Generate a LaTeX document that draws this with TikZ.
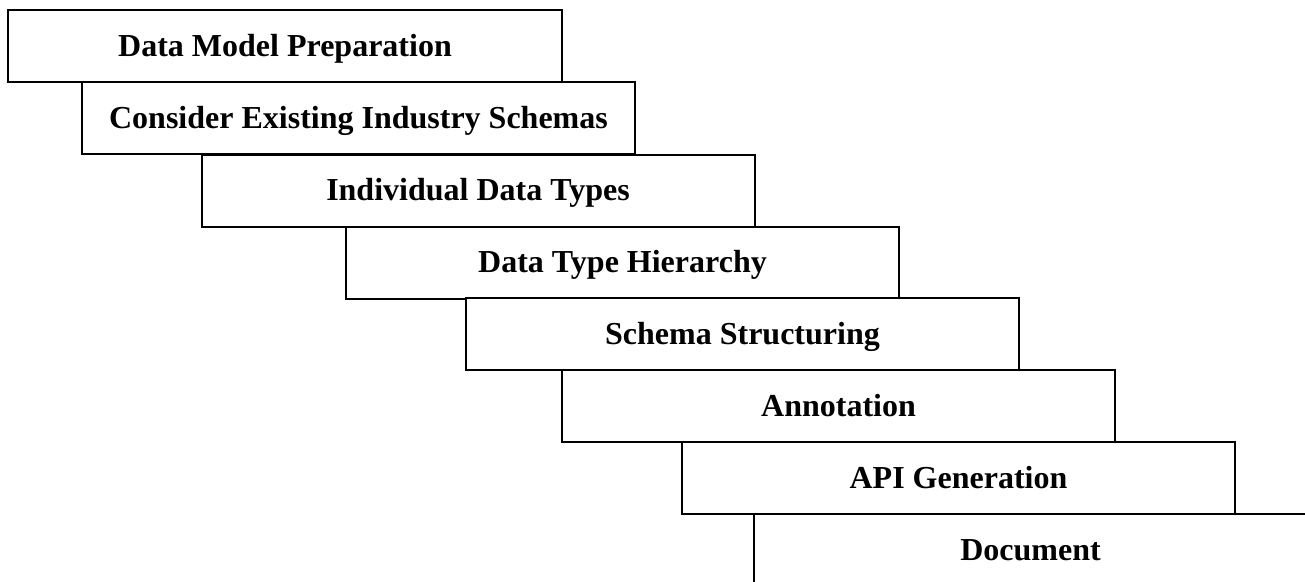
\documentclass[tikz,border=0pt]{standalone}
\usepackage{fontspec}
\setmainfont{Liberation Serif}
\begin{document}
\begin{tikzpicture}[x=1pt,y=-1pt,
  stage/.style={draw=black,fill=white,line width=2pt,rectangle,
    minimum width=553pt,minimum height=72pt,inner sep=0pt,outer sep=0pt,
    text height=24pt,text depth=4pt,
    font=\bfseries\fontsize{32}{38}\selectfont}]
\useasboundingbox (0,0) rectangle (1305,581);
\clip (0,0) rectangle (1305,581);
\node[stage,minimum width=554pt] (s1) at (285,46) {Data Model Preparation};
\node[stage] (s2) at (358.5,118) {Consider Existing Industry Schemas};
\node[stage] (s3) at (478,190.5) {Individual Data Types};
\node[stage] (s4) at (622.5,262.5) {Data Type Hierarchy};
\node[stage] (s5) at (742.5,334) {Schema Structuring};
\node[stage] (s6) at (838.5,406) {Annotation};
\node[stage] (s7) at (958.5,478) {API Generation};
\node[stage] (s8) at (1030.5,550) {Document};
\end{tikzpicture}
\end{document}
